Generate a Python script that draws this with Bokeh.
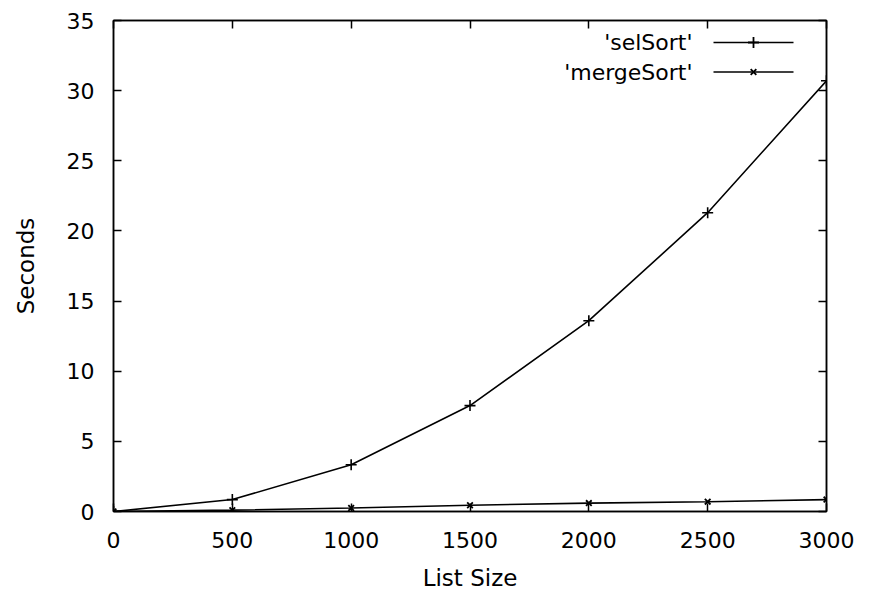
from bokeh.plotting import figure
from bokeh.models import Range1d, FixedTicker, LinearAxis
from bokeh.core.properties import value
from bokeh.embed import file_html
from bokeh.resources import INLINE

# Data
list_sizes = [0, 500, 1000, 1500, 2000, 2500, 3000]
sel_sort = [0.0, 0.85, 3.33, 7.55, 13.6, 21.3, 30.7]
merge_sort = [0.0, 0.1, 0.25, 0.45, 0.6, 0.7, 0.85]
series_names = ["'selSort'", "'mergeSort'"]
x_ticks = [0, 500, 1000, 1500, 2000, 2500, 3000]
y_ticks = [0, 5, 10, 15, 20, 25, 30, 35]

FONT = "DejaVu Sans"
FS = "22px"
FS_LABEL = "23px"

p = figure(width=857, height=593, output_backend="svg", toolbar_location=None,
           x_range=Range1d(0, 3000), y_range=Range1d(0, 35),
           min_border_left=113, min_border_top=20, min_border_right=31,
           min_border_bottom=82, x_axis_label="List Size", y_axis_label="Seconds")
p.background_fill_color = "white"
p.border_fill_color = "white"
p.outline_line_color = "black"
p.outline_line_width = 1.5
p.grid.visible = False

# pixel-space ranges for the legend (frame coordinates)
p.extra_x_ranges = {"px": Range1d(113, 826)}
p.extra_y_ranges = {"py": Range1d(511, 20)}

def style_axis(ax, show_labels):
    ax.axis_line_color = "black"
    ax.axis_line_width = 1.5
    ax.major_tick_in = 8
    ax.major_tick_out = 0
    ax.minor_tick_in = 0
    ax.minor_tick_out = 0
    ax.major_tick_line_width = 1.5
    ax.major_tick_line_color = "black"
    ax.major_label_text_font = FONT
    ax.major_label_text_font_size = FS
    ax.major_label_text_color = "black" if show_labels else None
    ax.axis_label_text_font = FONT
    ax.axis_label_text_font_size = FS_LABEL
    ax.axis_label_text_font_style = "normal"
    ax.axis_label_text_color = "black"

xa = p.xaxis[0]
ya = p.yaxis[0]
xa.ticker = FixedTicker(ticks=x_ticks)
ya.ticker = FixedTicker(ticks=y_ticks)
style_axis(xa, True)
style_axis(ya, True)
xa.major_label_standoff = 20
ya.major_label_standoff = 19
xa.axis_label_standoff = 14
ya.axis_label_standoff = 25

top = LinearAxis(ticker=FixedTicker(ticks=x_ticks))
right = LinearAxis(ticker=FixedTicker(ticks=y_ticks))
style_axis(top, False)
style_axis(right, False)
top.major_label_text_font_size = "0px"
right.major_label_text_font_size = "0px"
top.major_label_standoff = 0
right.major_label_standoff = 0
p.add_layout(top, "above")
p.add_layout(right, "right")

# data series
p.line(list_sizes, sel_sort, line_color="black", line_width=1.6)
p.scatter(list_sizes, sel_sort, marker="cross", size=11, line_color="black", line_width=1.6)
p.line(list_sizes, merge_sort, line_color="black", line_width=1.6)
p.scatter(list_sizes, merge_sort, marker="x", size=8, line_color="black", line_width=1.8)

# legend (text left of the sample, gnuplot style) in frame pixel coordinates
leg_y = [42, 71.5]
markers = ["cross", "x"]
sizes = [11, 8]
for name, ly, mk, sz in zip(series_names, leg_y, markers, sizes):
    p.text(x=[692], y=[ly], text=[name], x_range_name="px", y_range_name="py",
           text_align="right", text_baseline="middle", text_font=value(FONT),
           text_font_size=FS, text_color="black")
    p.line(x=[713, 793], y=[ly, ly], x_range_name="px", y_range_name="py",
           line_color="black", line_width=1.6)
    p.scatter(x=[753], y=[ly], x_range_name="px", y_range_name="py",
              marker=mk, size=sz, line_color="black", line_width=1.8)

open("out.html", "w").write(file_html(p, INLINE))
